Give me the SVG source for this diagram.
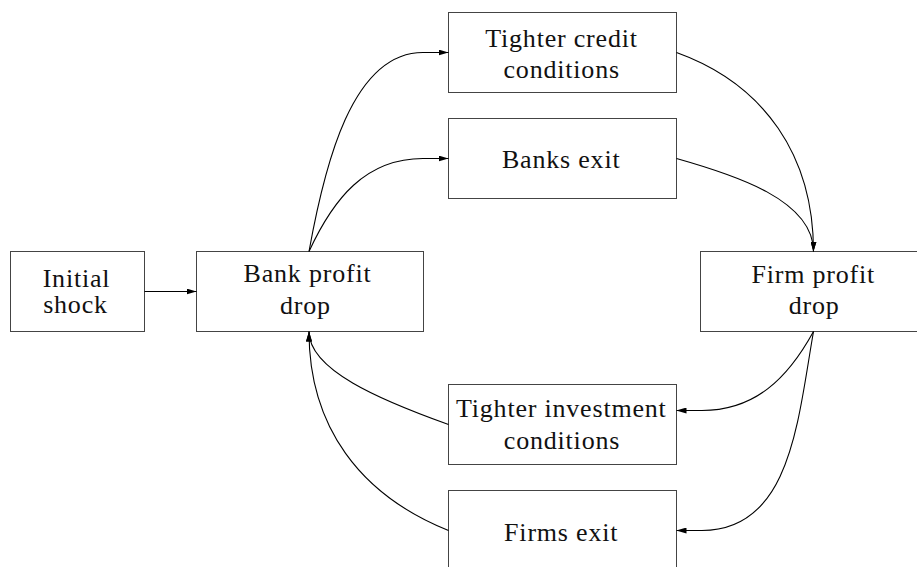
<svg xmlns="http://www.w3.org/2000/svg" width="917" height="567" viewBox="0 0 917 567">
<style>
.box{fill:#fff;stroke:#444;stroke-width:1}
.c{fill:none;stroke:#000;stroke-width:1.1;marker-end:url(#ah)}
</style>
<defs>
<marker id="ah" markerUnits="userSpaceOnUse" markerWidth="10" markerHeight="6" refX="10" refY="3" orient="auto">
<path d="M0,0 L10,3 L0,6 Z" fill="#000"/>
</marker>
</defs>
<rect width="917" height="567" fill="#fff"/>
<g font-family="'Liberation Serif', 'Times New Roman', serif" font-size="26" fill="#111" text-anchor="middle" letter-spacing="0.8">
<g id="initial">
<rect class="box" x="10.5" y="251.5" width="134" height="80"/>
<text x="76.5" y="286.7">Initial</text>
<text x="75.5" y="313.3">shock</text>
</g>
<g id="bank">
<rect class="box" x="196.5" y="251.5" width="227" height="80"/>
<text x="307.5" y="282">Bank profit</text>
<text x="305.5" y="313.5">drop</text>
</g>
<g id="credit">
<rect class="box" x="448.5" y="12.5" width="228" height="80"/>
<text x="561.5" y="46.7">Tighter credit</text>
<text x="561.7" y="78">conditions</text>
</g>
<g id="banksexit">
<rect class="box" x="448.5" y="118.5" width="228" height="80"/>
<text x="561.2" y="167.7">Banks exit</text>
</g>
<g id="firm">
<rect class="box" x="700.5" y="251.5" width="227" height="80"/>
<text x="813.3" y="282.5">Firm profit</text>
<text x="814.2" y="313.5">drop</text>
</g>
<g id="investment">
<rect class="box" x="448.5" y="384.5" width="228" height="80"/>
<text x="561.3" y="417.3">Tighter investment</text>
<text x="562" y="448.5">conditions</text>
</g>
<g id="firmsexit">
<rect class="box" x="448.5" y="490.5" width="228" height="80"/>
<text x="561.2" y="540.7">Firms exit</text>
</g>
</g>
<g id="connectors">
<path class="c" d="M144.5,291.5 L196.5,291.5"/>
<path class="c" d="M309,251.5 C324.6,165 352,52.5 423,52.5 L448.5,52.5"/>
<path class="c" d="M309,251.5 C333.3,198.8 365.4,158.5 423,158.5 L448.5,158.5"/>
<path class="c" d="M676.5,52.5 C765,84.4 813.5,156.4 813.5,251.5"/>
<path class="c" d="M676.5,158.5 C735,175 813.5,200 813.5,251.5"/>
<path class="c" d="M813.5,331.5 C787.6,378.6 755,410.5 702,410.5 L676.5,410.5"/>
<path class="c" d="M813.5,331.5 C797.9,419.7 791,530.5 702,530.5 L676.5,530.5"/>
<path class="c" d="M448.5,424.5 C380,400 309,370 309,331.5"/>
<path class="c" d="M448.5,530.5 C360,495 309,426.7 309,331.5"/>
</g>
</svg>
